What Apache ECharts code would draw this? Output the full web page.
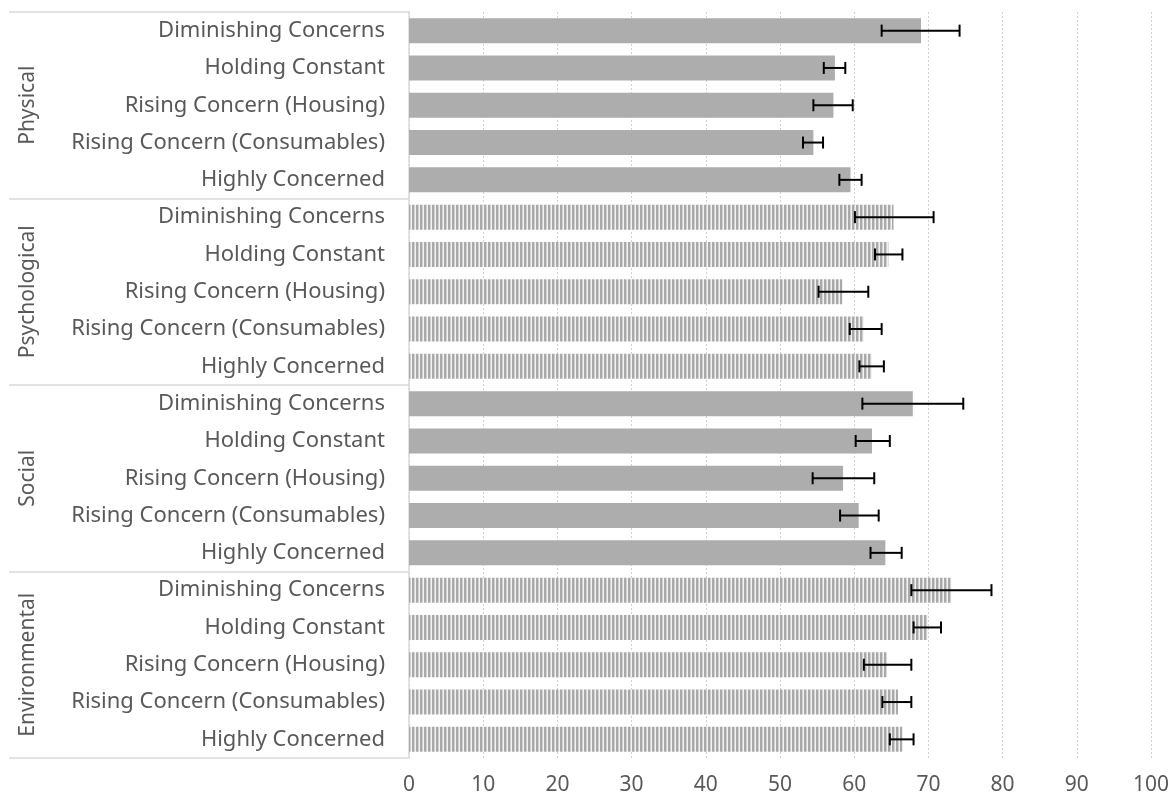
<!DOCTYPE html>
<html>
<head>
<meta charset="utf-8">
<script src="https://cdn.jsdelivr.net/npm/echarts@6/dist/echarts.min.js"></script>
<style>
  html, body { margin: 0; padding: 0; background: #fff; }
  #chart { width: 1175px; height: 800px; }
</style>
</head>
<body>
<div id="chart"></div>
<script>
// 分组与子类别
const groups = ['Physical', 'Psychological', 'Social', 'Environmental'];
const subLabels = ['Diminishing Concerns', 'Holding Constant', 'Rising Concern (Housing)',
  'Rising Concern (Consumables)', 'Highly Concerned'];
const stripedGroups = ['Psychological', 'Environmental'];

// 每组的均值与误差线上下限
const physicalMean = [69.0, 57.4, 57.2, 54.5, 59.5];
const physicalLow = [63.7, 55.9, 54.5, 53.1, 58.0];
const physicalHigh = [74.2, 58.8, 59.8, 55.8, 61.0];

const psychologicalMean = [65.3, 64.6, 58.4, 61.3, 62.4];
const psychologicalLow = [60.1, 62.8, 55.2, 59.4, 60.7];
const psychologicalHigh = [70.7, 66.5, 61.9, 63.7, 64.0];

const socialMean = [67.9, 62.4, 58.5, 60.6, 64.2];
const socialLow = [61.1, 60.2, 54.4, 58.1, 62.2];
const socialHigh = [74.7, 64.8, 62.7, 63.3, 66.4];

const environmentalMean = [73.1, 69.9, 64.4, 65.9, 66.5];
const environmentalLow = [67.7, 68.0, 61.3, 63.8, 64.8];
const environmentalHigh = [78.5, 71.7, 67.7, 67.7, 68.0];

const means = [physicalMean, psychologicalMean, socialMean, environmentalMean];
const lows = [physicalLow, psychologicalLow, socialLow, environmentalLow];
const highs = [physicalHigh, psychologicalHigh, socialHigh, environmentalHigh];

const xTicks = { min: 0, max: 100, interval: 10 };

// 竖条纹填充
function makeStripes() {
  const c = document.createElement('canvas');
  c.width = 4;
  c.height = 4;
  const ctx = c.getContext('2d');
  const cols = ['#a9a9a9', '#a9a9a9', '#d2d2d2', '#f2f2f2'];
  cols.forEach((col, i) => {
    ctx.fillStyle = col;
    ctx.fillRect(i, 0, 1, 4);
  });
  return c;
}
const stripes = { image: makeStripes(), repeat: 'repeat' };

const categories = [];
const barData = [];
const errData = [];
groups.forEach((g, gi) => {
  subLabels.forEach((s, si) => {
    const idx = categories.length;
    categories.push(s);
    barData.push({
      value: means[gi][si],
      itemStyle: { color: stripedGroups.includes(g) ? stripes : '#adadad' }
    });
    errData.push([idx, lows[gi][si], highs[gi][si]]);
  });
});

const labelFont = { fontFamily: 'Noto Sans', fontSize: 21, color: '#595959' };

const chart = echarts.init(document.getElementById('chart'));
chart.setOption({
  animation: false,
  grid: { left: 409, right: 24, top: 12, bottom: 42, containLabel: false },
  xAxis: {
    type: 'value',
    min: xTicks.min,
    max: xTicks.max,
    interval: xTicks.interval,
    axisLine: { show: false },
    axisTick: { show: false },
    axisLabel: Object.assign({ margin: 17 }, labelFont),
    splitLine: { lineStyle: { color: '#d0d0d0', type: [2, 2], width: 1 } }
  },
  yAxis: [
    {
      type: 'category',
      data: categories,
      inverse: true,
      axisLine: { show: true, lineStyle: { color: '#d9d9d9', width: 1.5 } },
      axisTick: { show: false },
      axisLabel: Object.assign({ margin: 24, interval: 0 }, labelFont, { fontSize: 22 })
    },
    {
      // 分组分隔线
      type: 'category',
      data: groups,
      inverse: true,
      position: 'left',
      axisLine: { show: false },
      axisTick: { show: true, length: 400, interval: 0, alignWithLabel: false, lineStyle: { color: '#d9d9d9', width: 1.5 } },
      axisLabel: { show: false }
    },
    {
      // 分组名称
      type: 'category',
      data: groups,
      inverse: true,
      position: 'left',
      offset: 362,
      axisLine: { show: false },
      axisTick: { show: false },
      axisLabel: Object.assign({ rotate: 90, margin: 8, interval: 0, hideOverlap: false }, labelFont)
    }
  ],
  series: [
    {
      type: 'bar',
      yAxisIndex: 0,
      data: barData,
      barCategoryGap: '33%'
    },
    {
      type: 'custom',
      yAxisIndex: 0,
      data: errData,
      z: 5,
      renderItem: function (params, api) {
        const y = api.value(0);
        const lo = api.coord([api.value(1), y]);
        const hi = api.coord([api.value(2), y]);
        const cap = 6;
        const style = { stroke: '#000', lineWidth: 2 };
        return {
          type: 'group',
          children: [
            { type: 'line', shape: { x1: lo[0], y1: lo[1], x2: hi[0], y2: hi[1] }, style: style },
            { type: 'line', shape: { x1: lo[0], y1: lo[1] - cap, x2: lo[0], y2: lo[1] + cap }, style: style },
            { type: 'line', shape: { x1: hi[0], y1: hi[1] - cap, x2: hi[0], y2: hi[1] + cap }, style: style }
          ]
        };
      }
    }
  ]
});
</script>
</body>
</html>
